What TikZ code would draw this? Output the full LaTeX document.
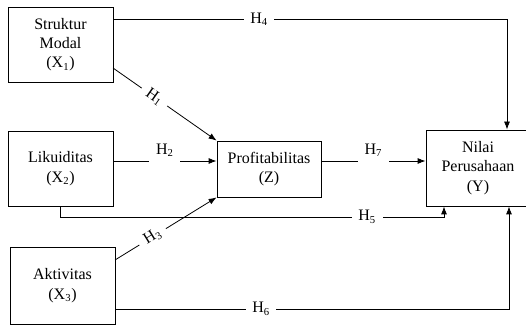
\documentclass[tikz,border=0pt]{standalone}
\usepackage{fontspec}
\setmainfont{Liberation Serif}
\usetikzlibrary{arrows.meta}
\begin{document}
\begin{tikzpicture}[x=0.75pt, y=-0.75pt, line width=0.6pt,
  var node/.style={rectangle,draw,align=center,font=\fontsize{12}{14.5}\selectfont,inner sep=0pt},
  hlab/.style={fill=white,font=\fontsize{12}{14}\selectfont,inner xsep=5pt,inner ysep=1pt},
  arr/.style={-{Latex[length=6pt,width=4.5pt]}}]

  \useasboundingbox (0,0) rectangle (526,327);

  \node[var node, minimum width=105*0.75pt, minimum height=75*0.75pt] at (60.5, 44.5) (sm) {Struktur\\Modal\\(X\textsubscript{1})};
  \node[var node, minimum width=105*0.75pt, minimum height=75*0.75pt] at (60.5, 168.5) (lk) {Likuiditas\\(X\textsubscript{2})};
  \node[var node, minimum width=105*0.75pt, minimum height=77*0.75pt] at (62.5, 285.5) (ak) {Aktivitas\\(X\textsubscript{3})};
  \node[var node, minimum width=104*0.75pt, minimum height=56*0.75pt] at (269, 169) (pr) {Profitabilitas\\(Z)};
  \node[var node, minimum width=104*0.75pt, minimum height=76*0.75pt] at (478, 168) (nl) {Nilai\\Perusahaan\\(Y)};

  \coordinate (c4) at (507, 19);
  \coordinate (c1) at (113, 68);
  \coordinate (c2) at (113, 161);
  \coordinate (c7) at (321, 161);
  \coordinate (c5a) at (60, 217);
  \coordinate (c5b) at (444, 217);
  \coordinate (c3) at (115, 260);
  \coordinate (c6) at (509, 309);

  \draw[arr] (sm.east |- c4) -- node[hlab, pos=0.37] {H\textsubscript{4}} (c4) -- (nl.north -| c4);
  \path[arr] (c1) edge node[hlab, sloped, pos=0.4] {H\textsubscript{1}} (pr.north west);
  \path[arr] (c2) edge node[hlab, yshift=8pt, minimum height=20pt] {H\textsubscript{2}} (pr.west |- c2);
  \path[arr] (c7) edge node[hlab, yshift=8pt, minimum height=20pt] {H\textsubscript{7}} (nl.west |- c7);
  \draw[arr] (lk.south -| c5a) -- (c5a) -- node[hlab, pos=0.8] {H\textsubscript{5}} (c5b) -- (nl.south -| c5b);
  \path[arr] (c3) edge node[hlab, sloped, pos=0.37] {H\textsubscript{3}} (pr.south west);
  \draw[arr] (ak.east |- c6) -- node[hlab, pos=0.37] {H\textsubscript{6}} (c6) -- (nl.south -| c6);
\end{tikzpicture}
\end{document}
